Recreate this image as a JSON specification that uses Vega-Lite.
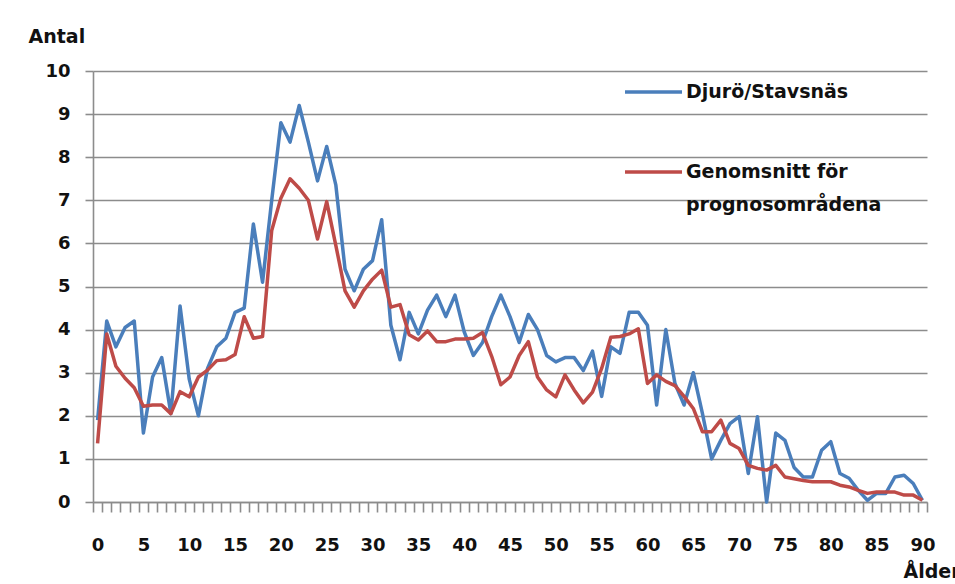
{
  "$schema": "https://vega.github.io/schema/vega-lite/v6.json",
  "width": 834,
  "height": 431,
  "autosize": {"type": "none"},
  "padding": {"left": 93, "top": 71, "right": 28, "bottom": 82},
  "background": "white",
  "config": {
    "view": {"stroke": null},
    "axis": {"labelFont": "DejaVu Sans", "labelFontWeight": "bold", "labelFontSize": 18, "labelColor": "#111111",
             "titleFont": "DejaVu Sans", "titleFontWeight": "bold", "titleFontSize": 19, "titleColor": "#111111",
             "domainColor": "#8c8c8c", "domainWidth": 1.6, "tickColor": "#8c8c8c", "tickWidth": 1.6, "gridColor": "#8c8c8c", "gridWidth": 1.6}
  },
  "data": {"values": [
    {"age":0,"serie":"Djurö/Stavsnäs","antal":1.9},{"age":1,"serie":"Djurö/Stavsnäs","antal":4.2},{"age":2,"serie":"Djurö/Stavsnäs","antal":3.6},{"age":3,"serie":"Djurö/Stavsnäs","antal":4.05},{"age":4,"serie":"Djurö/Stavsnäs","antal":4.2},{"age":5,"serie":"Djurö/Stavsnäs","antal":1.6},{"age":6,"serie":"Djurö/Stavsnäs","antal":2.9},{"age":7,"serie":"Djurö/Stavsnäs","antal":3.35},{"age":8,"serie":"Djurö/Stavsnäs","antal":2.05},{"age":9,"serie":"Djurö/Stavsnäs","antal":4.55},
    {"age":10,"serie":"Djurö/Stavsnäs","antal":2.85},{"age":11,"serie":"Djurö/Stavsnäs","antal":2.0},{"age":12,"serie":"Djurö/Stavsnäs","antal":3.1},{"age":13,"serie":"Djurö/Stavsnäs","antal":3.6},{"age":14,"serie":"Djurö/Stavsnäs","antal":3.8},{"age":15,"serie":"Djurö/Stavsnäs","antal":4.4},{"age":16,"serie":"Djurö/Stavsnäs","antal":4.5},{"age":17,"serie":"Djurö/Stavsnäs","antal":6.45},{"age":18,"serie":"Djurö/Stavsnäs","antal":5.1},{"age":19,"serie":"Djurö/Stavsnäs","antal":7.0},
    {"age":20,"serie":"Djurö/Stavsnäs","antal":8.8},{"age":21,"serie":"Djurö/Stavsnäs","antal":8.35},{"age":22,"serie":"Djurö/Stavsnäs","antal":9.2},{"age":23,"serie":"Djurö/Stavsnäs","antal":8.35},{"age":24,"serie":"Djurö/Stavsnäs","antal":7.45},{"age":25,"serie":"Djurö/Stavsnäs","antal":8.25},{"age":26,"serie":"Djurö/Stavsnäs","antal":7.35},{"age":27,"serie":"Djurö/Stavsnäs","antal":5.4},{"age":28,"serie":"Djurö/Stavsnäs","antal":4.9},{"age":29,"serie":"Djurö/Stavsnäs","antal":5.4},
    {"age":30,"serie":"Djurö/Stavsnäs","antal":5.6},{"age":31,"serie":"Djurö/Stavsnäs","antal":6.55},{"age":32,"serie":"Djurö/Stavsnäs","antal":4.1},{"age":33,"serie":"Djurö/Stavsnäs","antal":3.3},{"age":34,"serie":"Djurö/Stavsnäs","antal":4.4},{"age":35,"serie":"Djurö/Stavsnäs","antal":3.9},{"age":36,"serie":"Djurö/Stavsnäs","antal":4.45},{"age":37,"serie":"Djurö/Stavsnäs","antal":4.8},{"age":38,"serie":"Djurö/Stavsnäs","antal":4.3},{"age":39,"serie":"Djurö/Stavsnäs","antal":4.8},
    {"age":40,"serie":"Djurö/Stavsnäs","antal":3.95},{"age":41,"serie":"Djurö/Stavsnäs","antal":3.4},{"age":42,"serie":"Djurö/Stavsnäs","antal":3.7},{"age":43,"serie":"Djurö/Stavsnäs","antal":4.3},{"age":44,"serie":"Djurö/Stavsnäs","antal":4.8},{"age":45,"serie":"Djurö/Stavsnäs","antal":4.3},{"age":46,"serie":"Djurö/Stavsnäs","antal":3.7},{"age":47,"serie":"Djurö/Stavsnäs","antal":4.35},{"age":48,"serie":"Djurö/Stavsnäs","antal":4.0},{"age":49,"serie":"Djurö/Stavsnäs","antal":3.4},
    {"age":50,"serie":"Djurö/Stavsnäs","antal":3.25},{"age":51,"serie":"Djurö/Stavsnäs","antal":3.35},{"age":52,"serie":"Djurö/Stavsnäs","antal":3.35},{"age":53,"serie":"Djurö/Stavsnäs","antal":3.05},{"age":54,"serie":"Djurö/Stavsnäs","antal":3.5},{"age":55,"serie":"Djurö/Stavsnäs","antal":2.45},{"age":56,"serie":"Djurö/Stavsnäs","antal":3.6},{"age":57,"serie":"Djurö/Stavsnäs","antal":3.45},{"age":58,"serie":"Djurö/Stavsnäs","antal":4.4},{"age":59,"serie":"Djurö/Stavsnäs","antal":4.4},
    {"age":60,"serie":"Djurö/Stavsnäs","antal":4.1},{"age":61,"serie":"Djurö/Stavsnäs","antal":2.25},{"age":62,"serie":"Djurö/Stavsnäs","antal":4.0},{"age":63,"serie":"Djurö/Stavsnäs","antal":2.75},{"age":64,"serie":"Djurö/Stavsnäs","antal":2.25},{"age":65,"serie":"Djurö/Stavsnäs","antal":3.0},{"age":66,"serie":"Djurö/Stavsnäs","antal":2.05},{"age":67,"serie":"Djurö/Stavsnäs","antal":1.0},{"age":68,"serie":"Djurö/Stavsnäs","antal":1.43},{"age":69,"serie":"Djurö/Stavsnäs","antal":1.82},
    {"age":70,"serie":"Djurö/Stavsnäs","antal":1.98},{"age":71,"serie":"Djurö/Stavsnäs","antal":0.66},{"age":72,"serie":"Djurö/Stavsnäs","antal":1.98},{"age":73,"serie":"Djurö/Stavsnäs","antal":0.0},{"age":74,"serie":"Djurö/Stavsnäs","antal":1.6},{"age":75,"serie":"Djurö/Stavsnäs","antal":1.43},{"age":76,"serie":"Djurö/Stavsnäs","antal":0.8},{"age":77,"serie":"Djurö/Stavsnäs","antal":0.58},{"age":78,"serie":"Djurö/Stavsnäs","antal":0.58},{"age":79,"serie":"Djurö/Stavsnäs","antal":1.2},
    {"age":80,"serie":"Djurö/Stavsnäs","antal":1.4},{"age":81,"serie":"Djurö/Stavsnäs","antal":0.66},{"age":82,"serie":"Djurö/Stavsnäs","antal":0.55},{"age":83,"serie":"Djurö/Stavsnäs","antal":0.27},{"age":84,"serie":"Djurö/Stavsnäs","antal":0.04},{"age":85,"serie":"Djurö/Stavsnäs","antal":0.2},{"age":86,"serie":"Djurö/Stavsnäs","antal":0.2},{"age":87,"serie":"Djurö/Stavsnäs","antal":0.58},{"age":88,"serie":"Djurö/Stavsnäs","antal":0.62},{"age":89,"serie":"Djurö/Stavsnäs","antal":0.43},
    {"age":90,"serie":"Djurö/Stavsnäs","antal":0.04},
    {"age":0,"serie":"Genomsnitt för prognosområdena","antal":1.36},{"age":1,"serie":"Genomsnitt för prognosområdena","antal":3.9},{"age":2,"serie":"Genomsnitt för prognosområdena","antal":3.15},{"age":3,"serie":"Genomsnitt för prognosområdena","antal":2.87},{"age":4,"serie":"Genomsnitt för prognosområdena","antal":2.65},{"age":5,"serie":"Genomsnitt för prognosområdena","antal":2.22},{"age":6,"serie":"Genomsnitt för prognosområdena","antal":2.25},{"age":7,"serie":"Genomsnitt för prognosområdena","antal":2.25},{"age":8,"serie":"Genomsnitt för prognosområdena","antal":2.05},{"age":9,"serie":"Genomsnitt för prognosområdena","antal":2.56},
    {"age":10,"serie":"Genomsnitt för prognosområdena","antal":2.44},{"age":11,"serie":"Genomsnitt för prognosområdena","antal":2.9},{"age":12,"serie":"Genomsnitt för prognosområdena","antal":3.06},{"age":13,"serie":"Genomsnitt för prognosområdena","antal":3.28},{"age":14,"serie":"Genomsnitt för prognosområdena","antal":3.3},{"age":15,"serie":"Genomsnitt för prognosområdena","antal":3.42},{"age":16,"serie":"Genomsnitt för prognosområdena","antal":4.3},{"age":17,"serie":"Genomsnitt för prognosområdena","antal":3.8},{"age":18,"serie":"Genomsnitt för prognosområdena","antal":3.84},{"age":19,"serie":"Genomsnitt för prognosområdena","antal":6.3},
    {"age":20,"serie":"Genomsnitt för prognosområdena","antal":7.05},{"age":21,"serie":"Genomsnitt för prognosområdena","antal":7.5},{"age":22,"serie":"Genomsnitt för prognosområdena","antal":7.28},{"age":23,"serie":"Genomsnitt för prognosområdena","antal":7.0},{"age":24,"serie":"Genomsnitt för prognosområdena","antal":6.1},{"age":25,"serie":"Genomsnitt för prognosområdena","antal":6.97},{"age":26,"serie":"Genomsnitt för prognosområdena","antal":5.95},{"age":27,"serie":"Genomsnitt för prognosområdena","antal":4.9},{"age":28,"serie":"Genomsnitt för prognosområdena","antal":4.52},{"age":29,"serie":"Genomsnitt för prognosområdena","antal":4.9},
    {"age":30,"serie":"Genomsnitt för prognosområdena","antal":5.17},{"age":31,"serie":"Genomsnitt för prognosområdena","antal":5.38},{"age":32,"serie":"Genomsnitt för prognosområdena","antal":4.52},{"age":33,"serie":"Genomsnitt för prognosområdena","antal":4.58},{"age":34,"serie":"Genomsnitt för prognosområdena","antal":3.88},{"age":35,"serie":"Genomsnitt för prognosområdena","antal":3.76},{"age":36,"serie":"Genomsnitt för prognosområdena","antal":3.97},{"age":37,"serie":"Genomsnitt för prognosområdena","antal":3.72},{"age":38,"serie":"Genomsnitt för prognosområdena","antal":3.72},{"age":39,"serie":"Genomsnitt för prognosområdena","antal":3.78},
    {"age":40,"serie":"Genomsnitt för prognosområdena","antal":3.78},{"age":41,"serie":"Genomsnitt för prognosområdena","antal":3.8},{"age":42,"serie":"Genomsnitt för prognosområdena","antal":3.93},{"age":43,"serie":"Genomsnitt för prognosområdena","antal":3.38},{"age":44,"serie":"Genomsnitt för prognosområdena","antal":2.72},{"age":45,"serie":"Genomsnitt för prognosområdena","antal":2.9},{"age":46,"serie":"Genomsnitt för prognosområdena","antal":3.4},{"age":47,"serie":"Genomsnitt för prognosområdena","antal":3.72},{"age":48,"serie":"Genomsnitt för prognosområdena","antal":2.9},{"age":49,"serie":"Genomsnitt för prognosområdena","antal":2.6},
    {"age":50,"serie":"Genomsnitt för prognosområdena","antal":2.44},{"age":51,"serie":"Genomsnitt för prognosområdena","antal":2.95},{"age":52,"serie":"Genomsnitt för prognosområdena","antal":2.6},{"age":53,"serie":"Genomsnitt för prognosområdena","antal":2.3},{"age":54,"serie":"Genomsnitt för prognosområdena","antal":2.55},{"age":55,"serie":"Genomsnitt för prognosområdena","antal":3.1},{"age":56,"serie":"Genomsnitt för prognosområdena","antal":3.82},{"age":57,"serie":"Genomsnitt för prognosområdena","antal":3.84},{"age":58,"serie":"Genomsnitt för prognosområdena","antal":3.9},{"age":59,"serie":"Genomsnitt för prognosområdena","antal":4.02},
    {"age":60,"serie":"Genomsnitt för prognosområdena","antal":2.75},{"age":61,"serie":"Genomsnitt för prognosområdena","antal":2.95},{"age":62,"serie":"Genomsnitt för prognosområdena","antal":2.8},{"age":63,"serie":"Genomsnitt för prognosområdena","antal":2.7},{"age":64,"serie":"Genomsnitt för prognosområdena","antal":2.45},{"age":65,"serie":"Genomsnitt för prognosområdena","antal":2.17},{"age":66,"serie":"Genomsnitt för prognosområdena","antal":1.63},{"age":67,"serie":"Genomsnitt för prognosområdena","antal":1.63},{"age":68,"serie":"Genomsnitt för prognosområdena","antal":1.9},{"age":69,"serie":"Genomsnitt för prognosområdena","antal":1.36},
    {"age":70,"serie":"Genomsnitt för prognosområdena","antal":1.24},{"age":71,"serie":"Genomsnitt för prognosområdena","antal":0.85},{"age":72,"serie":"Genomsnitt för prognosområdena","antal":0.78},{"age":73,"serie":"Genomsnitt för prognosområdena","antal":0.74},{"age":74,"serie":"Genomsnitt för prognosområdena","antal":0.85},{"age":75,"serie":"Genomsnitt för prognosområdena","antal":0.58},{"age":76,"serie":"Genomsnitt för prognosområdena","antal":0.54},{"age":77,"serie":"Genomsnitt för prognosområdena","antal":0.5},{"age":78,"serie":"Genomsnitt för prognosområdena","antal":0.47},{"age":79,"serie":"Genomsnitt för prognosområdena","antal":0.47},
    {"age":80,"serie":"Genomsnitt för prognosområdena","antal":0.47},{"age":81,"serie":"Genomsnitt för prognosområdena","antal":0.39},{"age":82,"serie":"Genomsnitt för prognosområdena","antal":0.35},{"age":83,"serie":"Genomsnitt för prognosområdena","antal":0.27},{"age":84,"serie":"Genomsnitt för prognosområdena","antal":0.2},{"age":85,"serie":"Genomsnitt för prognosområdena","antal":0.23},{"age":86,"serie":"Genomsnitt för prognosområdena","antal":0.23},{"age":87,"serie":"Genomsnitt för prognosområdena","antal":0.23},{"age":88,"serie":"Genomsnitt för prognosområdena","antal":0.16},{"age":89,"serie":"Genomsnitt för prognosområdena","antal":0.16},
    {"age":90,"serie":"Genomsnitt för prognosområdena","antal":0.04}
  ]},
  "mark": {"type": "line", "strokeWidth": 3.5, "strokeJoin": "round", "clip": false},
  "encoding": {
    "x": {"field": "age", "type": "quantitative",
          "scale": {"domain": [-0.5, 90.5], "nice": false, "zero": false},
          "axis": {"title": "Ålder", "titleX": 810, "titleY": 69, "titleAlign": "left", "titleBaseline": "middle",
                   "values": [-0.5,0.5,1.5,2.5,3.5,4.5,5.5,6.5,7.5,8.5,9.5,10.5,11.5,12.5,13.5,14.5,15.5,16.5,17.5,18.5,19.5,20.5,21.5,22.5,23.5,24.5,25.5,26.5,27.5,28.5,29.5,30.5,31.5,32.5,33.5,34.5,35.5,36.5,37.5,38.5,39.5,40.5,41.5,42.5,43.5,44.5,45.5,46.5,47.5,48.5,49.5,50.5,51.5,52.5,53.5,54.5,55.5,56.5,57.5,58.5,59.5,60.5,61.5,62.5,63.5,64.5,65.5,66.5,67.5,68.5,69.5,70.5,71.5,72.5,73.5,74.5,75.5,76.5,77.5,78.5,79.5,80.5,81.5,82.5,83.5,84.5,85.5,86.5,87.5,88.5,89.5,90.5],
                   "labelExpr": "(datum.value + 0.5) % 5 == 0 ? '' + (datum.value + 0.5) : ''",
                   "labelOffset": 4.58, "labelOverlap": false, "labelFlush": false, "labelBound": false,
                   "tickSize": 10, "labelPadding": 24, "grid": false}},
    "y": {"field": "antal", "type": "quantitative",
          "scale": {"domain": [0, 10], "nice": false},
          "axis": {"title": "Antal", "titleAngle": 0, "titleX": -65, "titleY": -35, "titleAlign": "left", "titleBaseline": "middle",
                   "values": [0,1,2,3,4,5,6,7,8,9,10], "tickSize": 8, "labelPadding": 15, "grid": true}},
    "color": {"field": "serie", "type": "nominal",
              "scale": {"domain": ["Djurö/Stavsnäs", "Genomsnitt för prognosområdena"], "range": ["#4a7ebb", "#be4b48"]},
              "legend": {"orient": "none", "legendX": 530, "legendY": -19, "title": null, "padding": 0,
                         "symbolType": "stroke", "symbolSize": 3249, "symbolStrokeWidth": 3.5,
                         "labelFont": "DejaVu Sans", "labelFontSize": 19, "labelFontWeight": "bold", "labelColor": "#111111",
                         "labelBaseline": "top", "labelOffset": 2, "labelLimit": 400, "clipHeight": 80, "rowPadding": 0,
                         "labelExpr": "datum.label == 'Genomsnitt för prognosområdena' ? ['Genomsnitt för', 'prognosområdena'] : datum.label",
                         "encode": {"labels": {"update": {"dy": {"value": -9}, "lineHeight": {"value": 33}}}}}}
  }
}
